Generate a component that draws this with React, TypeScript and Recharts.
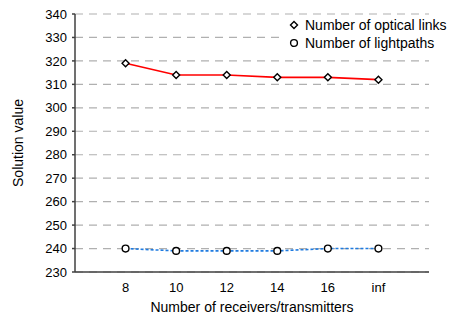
import React from "react";
import { LineChart, Line, XAxis, YAxis, CartesianGrid } from "recharts";

const categories = ["8", "10", "12", "14", "16", "inf"];
const opticalLinks = [319, 314, 314, 313, 313, 312];
const lightpaths = [240, 239, 239, 239, 240, 240];
const yTicks = [230, 240, 250, 260, 270, 280, 290, 300, 310, 320, 330, 340];

const data = categories.map((c, i) => ({
  pos: i + 1,
  links: opticalLinks[i],
  paths: lightpaths[i],
}));

const FONT = "'Liberation Sans', Arial, sans-serif";

const Diamond = (props: any) => {
  const { cx, cy } = props;
  if (cx == null || cy == null) return null;
  const s = 3.5;
  return (
    <path
      d={`M${cx},${cy - s}L${cx + s},${cy}L${cx},${cy + s}L${cx - s},${cy}Z`}
      fill="#fff"
      stroke="#000"
      strokeWidth={1.4}
    />
  );
};

const Ring = (props: any) => {
  const { cx, cy } = props;
  if (cx == null || cy == null) return null;
  return <circle cx={cx} cy={cy} r={3.4} fill="#fff" stroke="#000" strokeWidth={1.4} />;
};

// legend sits over the plot's top-right corner, like the original
const LegendBox = () => (
  <div
    style={{
      position: "absolute",
      left: 285,
      top: 16,
      fontFamily: FONT,
      fontSize: 14,
      color: "#000",
      lineHeight: "18px",
      background: "#fff",
      whiteSpace: "nowrap",
      paddingLeft: 2,
    }}
  >
    <div style={{ display: "flex", alignItems: "center" }}>
      <svg width={14} height={10} style={{ marginRight: 4 }}>
        <Diamond cx={7} cy={5} />
      </svg>
      Number of optical links
    </div>
    <div style={{ display: "flex", alignItems: "center" }}>
      <svg width={14} height={10} style={{ marginRight: 4 }}>
        <Ring cx={7} cy={5} />
      </svg>
      Number of lightpaths
    </div>
  </div>
);

export default function App() {
  return (
    <div style={{ position: "absolute", left: 0, top: 0, width: 450, height: 314, background: "#fff", overflow: "hidden" }}>
      <LineChart
        width={450}
        height={314}
        data={data}
        margin={{ top: 14, right: 21, left: 0, bottom: 0 }}
      >
        <CartesianGrid
          vertical={false}
          stroke="#b0b0b0"
          strokeDasharray="8 6"
          strokeWidth={1.2}
        />
        <XAxis
          dataKey="pos"
          type="number"
          domain={[0, 7]}
          ticks={[1, 2, 3, 4, 5, 6]}
          tickFormatter={(v) => categories[v - 1]}
          tickLine={false}
          tickMargin={5}
          height={42}
          stroke="#404040"
          strokeWidth={1.5}
          tick={{ fill: "#000", fontSize: 13, fontFamily: FONT }}
          label={{
            value: "Number of receivers/transmitters",
            position: "insideBottom",
            offset: 2,
            fill: "#000",
            fontSize: 14,
            fontFamily: FONT,
          }}
        />
        <YAxis
          domain={[230, 340]}
          ticks={yTicks}
          interval={0}
          width={75}
          tickSize={3}
          tickMargin={5}
          stroke="#404040"
          strokeWidth={1.5}
          tick={{ fill: "#000", fontSize: 13, fontFamily: FONT }}
          label={{
            value: "Solution value",
            angle: -90,
            position: "insideLeft",
            offset: 18,
            style: { textAnchor: "middle" },
            fill: "#000",
            fontSize: 14,
            fontFamily: FONT,
          }}
        />
        <Line
          type="linear"
          dataKey="links"
          stroke="#ff0000"
          strokeWidth={1.6}
          dot={<Diamond />}
          activeDot={false}
          isAnimationActive={false}
        />
        <Line
          type="linear"
          dataKey="paths"
          stroke="#1f7be0"
          strokeWidth={1.6}
          strokeDasharray="3 2"
          dot={<Ring />}
          activeDot={false}
          isAnimationActive={false}
        />
      </LineChart>
      <LegendBox />
    </div>
  );
}
